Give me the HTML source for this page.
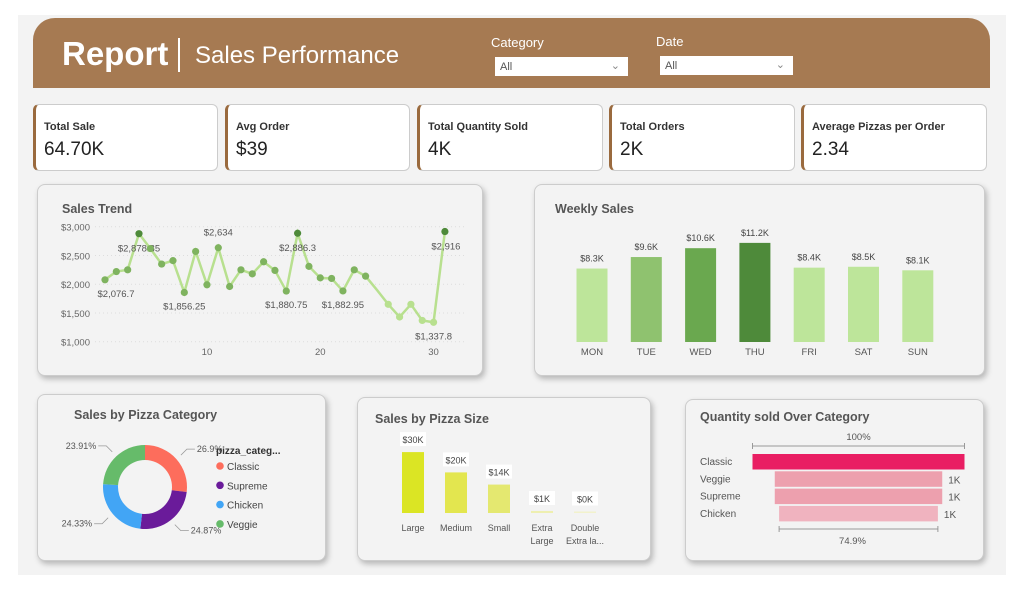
<!DOCTYPE html>
<html><head><meta charset="utf-8"><style>
body{margin:0;width:1024px;height:593px;background:#fff;font-family:"Liberation Sans",sans-serif;position:relative;overflow:hidden}
.abs{position:absolute}
.canvas{left:18px;top:15px;width:988px;height:560px;background:#f3f3f3}
.header{left:33px;top:18px;width:957px;height:70px;background:#a67a52;border-radius:22px 22px 0 0}
.kpi{top:104px;height:67px;background:#fff;border:1px solid #ccc;border-left:3px solid #9a6a3e;border-radius:6px;box-sizing:border-box}
.kpi .t{position:absolute;left:8px;top:16px;font-size:11px;font-weight:bold;color:#333}
.kpi .v{position:absolute;left:8px;top:34px;font-size:19px;color:#222}
.card{background:#f3f3f3;border:1px solid #ccc;border-radius:8px;box-shadow:2px 3px 6px rgba(0,0,0,.25);box-sizing:border-box}
.ct{position:absolute;font-size:12.5px;font-weight:bold;color:#555}
.sel{background:#fff;font-size:11px;color:#555;height:19px;line-height:21px;box-sizing:border-box;padding-left:5px}
svg text{font-family:"Liberation Sans",sans-serif}
</style></head><body>
<div class="abs canvas"></div>
<div class="abs header">
  <div class="abs" style="left:29px;top:17px;font-size:33px;font-weight:bold;color:#fff">Report</div>
  <div class="abs" style="left:145px;top:20px;width:2px;height:34px;background:#fff"></div>
  <div class="abs" style="left:162px;top:24px;font-size:24px;color:#fff">Sales Performance</div>
  <div class="abs" style="left:458px;top:17px;font-size:13px;color:#fff">Category</div>
  <div class="abs sel" style="left:462px;top:39px;width:133px">All<span style="position:absolute;right:8px;top:-1px;color:#888">&#8964;</span></div>
  <div class="abs" style="left:623px;top:16px;font-size:13px;color:#fff">Date</div>
  <div class="abs sel" style="left:627px;top:38px;width:133px">All<span style="position:absolute;right:8px;top:-1px;color:#888">&#8964;</span></div>
</div>
<div class="abs kpi" style="left:33px;width:185px"><div class="t">Total Sale</div><div class="v">64.70K</div></div>
<div class="abs kpi" style="left:225px;width:185px"><div class="t">Avg Order</div><div class="v">$39</div></div>
<div class="abs kpi" style="left:417px;width:186px"><div class="t">Total Quantity Sold</div><div class="v">4K</div></div>
<div class="abs kpi" style="left:609px;width:186px"><div class="t">Total Orders</div><div class="v">2K</div></div>
<div class="abs kpi" style="left:801px;width:186px"><div class="t">Average Pizzas per Order</div><div class="v">2.34</div></div>

<div class="abs card" style="left:37px;top:184px;width:446px;height:192px"><div class="ct" style="left:24px;top:17px">Sales Trend</div></div>
<div class="abs card" style="left:534px;top:184px;width:451px;height:192px"><div class="ct" style="left:20px;top:17px">Weekly Sales</div></div>
<div class="abs card" style="left:37px;top:394px;width:289px;height:167px"><div class="ct" style="left:36px;top:13px">Sales by Pizza Category</div></div>
<div class="abs card" style="left:357px;top:397px;width:294px;height:164px"><div class="ct" style="left:17px;top:14px">Sales by Pizza Size</div></div>
<div class="abs card" style="left:685px;top:399px;width:299px;height:162px"><div class="ct" style="left:14px;top:10px">Quantity sold Over Category</div></div>

<svg class="abs" id="chart" style="left:0;top:0" width="1024" height="593"></svg>
<script>
// Sales trend
const trendDays=[1,2,3,4,5,6,7,8,9,10,11,12,13,14,15,16,17,18,19,20,21,22,23,24,25,26,27,28,29,30,31];
const trendValues=[2076.7,2220,2250,2878.85,2620,2350,2410,1856.25,2570,1990,2634,1960,2250,2180,2390,2240,1880.75,2886.3,2310,2110,2100,1882.95,2250,2140,1900,1650,1430,1650,1370,1337.8,2916];
const trendTicks=[1000,1500,2000,2500,3000];
const trendXTicks=[10,20,30];
const trendLabels={1:"$2,076.7",4:"$2,878.85",8:"$1,856.25",11:"$2,634",17:"$1,880.75",18:"$2,886.3",22:"$1,882.95",30:"$1,337.8",31:"$2,916"};
// Weekly sales (K)
const weekDays=["MON","TUE","WED","THU","FRI","SAT","SUN"];
const weekValues=[8.3,9.6,10.6,11.2,8.4,8.5,8.1];
const weekColors=["#bde59a","#8fc26f","#6aa84f","#4e8a3a","#bde59a","#bde59a","#bde59a"];
// Category share
const catNames=["Classic","Supreme","Chicken","Veggie"];
const catShares=[26.9,24.87,24.33,23.91];
const catColors=["#fd6d5c","#6a1b9a","#42a5f5","#66bb6a"];
// Pizza size (K)
const sizeNames=[["Large"],["Medium"],["Small"],["Extra","Large"],["Double","Extra la..."]];
const sizeValues=[30,20,14,1,0.3];
const sizeLabels=["$30K","$20K","$14K","$1K","$0K"];
const sizeColors=["#dbe524","#e3e64f","#e4e870","#eeefb0","#f2f2cc"];
// Funnel
const funnelNames=["Classic","Veggie","Supreme","Chicken"];
const funnelValues=[100,79,79,74.9];
const funnelLabels=["","1K","1K","1K"];
const funnelColors=["#e91e63","#eda0ae","#eda0ae","#f0b3bf"];

const svg=document.getElementById('chart');const NS="http://www.w3.org/2000/svg";
function el(t,a,p){const e=document.createElementNS(NS,t);for(const k in a)e.setAttribute(k,a[k]);(p||svg).appendChild(e);return e;}
function tx(x,y,s,sz,fill,anchor){const e=el('text',{x:x,y:y,'font-size':sz,fill:fill,'text-anchor':anchor||'middle'});e.textContent=s;return e;}

// trend
const tx0=105,tdx=11.33;const tX=d=>tx0+(d-1)*tdx;const tY=v=>341.7-(v-1000)*(115/2000);
trendTicks.forEach(v=>{const l=el('line',{x1:95,x2:464,y1:tY(v),y2:tY(v),stroke:'#ddd','stroke-dasharray':'1,3'});
 const t=tx(90,tY(v)+4,'$'+v.toLocaleString('en-US'),9.5,'#666','end');});
trendXTicks.forEach(d=>{const t=tx(tX(d),355,d,9.5,'#666');});
const pl=el('polyline',{points:trendDays.map((d,i)=>tX(d)+','+tY(trendValues[i])).join(' '),fill:'none',stroke:'#b8e08f','stroke-width':2.5});

trendDays.forEach((d,i)=>{const v=trendValues[i];if(d===25)return;const c=el('circle',{cx:tX(d),cy:tY(v),r:3.6,fill:v>2800?'#4e8a3a':(v<1700?'#b8e08f':'#7fb35f')});
 
 if(trendLabels[d]){const hi=v>2600&&d!==4;const t=tx(tX(d)+(d===1?11:d===31?1:0),hi?tY(v)-(d===11?-1:-14):tY(v)+17,trendLabels[d],9.5,'#555');
  if(d===11)t.setAttribute('y',tY(v)-12);if(d===4)t.setAttribute('y',tY(v)+18);if(d===18)t.setAttribute('y',tY(v)+18);if(d===31)t.setAttribute('y',tY(v)+18);
  }});

// weekly
const wY=v=>342-v*8.85;
weekDays.forEach((d,i)=>{const cx=592+i*54.3;const r=el('rect',{x:cx-15.5,y:wY(weekValues[i]),width:31,height:342-wY(weekValues[i]),fill:weekColors[i]});
 
 const l=tx(cx,wY(weekValues[i])-7,'$'+weekValues[i]+'K',9,'#444');
 const a=tx(cx,355,d,9.5,'#555');});

// donut
const cx=145,cy=487,R=42,r0=27;let a0=-Math.PI/2;
catShares.forEach((s,i)=>{const a1=a0+s/100*2*Math.PI;const p=(a,rr)=>[cx+rr*Math.cos(a),cy+rr*Math.sin(a)];
 const [x1,y1]=p(a0,R),[x2,y2]=p(a1,R),[x3,y3]=p(a1,r0),[x4,y4]=p(a0,r0);const lg=(a1-a0)>Math.PI?1:0;
 const pa=el('path',{d:`M${x1},${y1}A${R},${R} 0 ${lg} 1 ${x2},${y2}L${x3},${y3}A${r0},${r0} 0 ${lg} 0 ${x4},${y4}Z`,fill:catColors[i]});
 
 const am=(a0+a1)/2;const [lx,ly]=p(am,R+6);const right=Math.cos(am)>0;
 const ln=el('polyline',{points:`${lx},${ly} ${lx+(right?6:-6)},${ly+(Math.sin(am)>0?6:-6)} ${lx+(right?14:-14)},${ly+(Math.sin(am)>0?6:-6)}`,fill:'none',stroke:'#999','stroke-width':0.8});
 const t=tx(lx+(right?16:-16),ly+(Math.sin(am)>0?9:-3),s+'%',9,'#555',right?'start':'end');
 a0=a1;});
const lt=tx(216,454,'pizza_categ...',10,'#333','start');lt.setAttribute('font-weight','bold');
catNames.forEach((n,i)=>{const y=466+i*19.3;const c=el('circle',{cx:220,cy:y,r:3.8,fill:catColors[i]});
 const t=tx(227,y+4,n,10,'#444','start');});

// size
const sY=v=>513-v*2.03;
sizeNames.forEach((n,i)=>{const x=413+i*43;const h=Math.max(513-sY(sizeValues[i]),1.5);const r=el('rect',{x:x-11,y:513-h,width:22,height:h,fill:sizeColors[i]});
 
 const bg=el('rect',{x:x-13,y:513-h-20,width:26,height:14,fill:'#fff'});
 const l=tx(x,513-h-9,sizeLabels[i],9,'#444');
 n.forEach((w,j)=>{const t=tx(x,531+j*13,w,9,'#555');});});

// funnel
const fc=858.5,fw=212;
el('line',{x1:752.5,x2:964.5,y1:446,y2:446,stroke:'#999'});el('line',{x1:752.5,x2:752.5,y1:443,y2:449,stroke:'#999'});el('line',{x1:964.5,x2:964.5,y1:443,y2:449,stroke:'#999'});
tx(fc,440,funnelValues[0]+'%',9.5,'#555');
funnelNames.forEach((n,i)=>{const w=fw*funnelValues[i]/100;const y=454+i*17.3;const r=el('rect',{x:fc-w/2,y:y,width:w,height:15.5,fill:funnelColors[i]});
 
 const t=tx(700,y+11,n,10,'#555','start');
 if(funnelLabels[i]){const v=tx(fc+w/2+6,y+12,funnelLabels[i],10,'#555','start');}});
const lw=fw*funnelValues[3]/100;
el('line',{x1:fc-lw/2,x2:fc+lw/2,y1:529,y2:529,stroke:'#999'});el('line',{x1:fc-lw/2,x2:fc-lw/2,y1:526,y2:532,stroke:'#999'});el('line',{x1:fc+lw/2,x2:fc+lw/2,y1:526,y2:532,stroke:'#999'});
tx(fc-6,544,funnelValues[3]+'%',9.5,'#555');
</script>
</body></html>
